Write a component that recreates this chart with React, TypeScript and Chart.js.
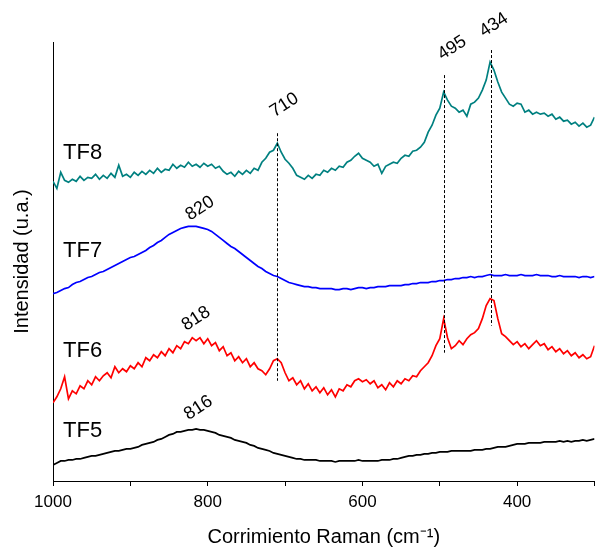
import React, { useEffect, useRef } from "react";
import { Chart, registerables } from "chart.js";

Chart.register(...registerables);

const wavenumbers = [
  1000, 995, 990, 985, 980, 975, 970, 965, 960, 955,
  950, 945, 940, 935, 930, 925, 920, 915, 910, 905,
  900, 895, 890, 885, 880, 875, 870, 865, 860, 855,
  850, 845, 840, 835, 830, 825, 820, 815, 810, 805,
  800, 795, 790, 785, 780, 775, 770, 765, 760, 755,
  750, 745, 740, 735, 730, 725, 720, 715, 710, 705,
  700, 695, 690, 685, 680, 675, 670, 665, 660, 655,
  650, 645, 640, 635, 630, 625, 620, 615, 610, 605,
  600, 595, 590, 585, 580, 575, 570, 565, 560, 555,
  550, 545, 540, 535, 530, 525, 520, 515, 510, 505,
  500, 495, 490, 485, 480, 475, 470, 465, 460, 455,
  450, 445, 440, 435, 430, 425, 420, 415, 410, 405,
  400, 395, 390, 385, 380, 375, 370, 365, 360, 355,
  350, 345, 340, 335, 330, 325, 320, 315, 310, 305,
  300,
];

const tf8 = [
  299, 292, 308, 300, 298, 301, 299, 304, 300, 303,
  302, 306, 301, 305, 302, 307, 303, 315, 304, 306,
  303, 308, 305, 309, 306, 310, 307, 312, 308, 311,
  310, 316, 312, 315, 313, 318, 314, 316, 313, 317,
  314, 316, 312, 314, 309, 306, 308, 304, 309, 306,
  310, 307, 312, 310, 318, 322, 328, 330, 337, 328,
  321, 317, 312, 305, 303, 301, 305, 302, 306, 305,
  310, 308, 312, 310, 314, 313, 318, 320, 324, 327,
  322, 320, 318, 314, 316, 307, 314, 316, 318, 317,
  322, 325, 324, 329, 330, 333, 338, 348, 355, 365,
  372, 388, 380, 374, 372, 368, 370, 364, 376, 378,
  382, 390, 400, 418, 410, 398, 388, 382, 376, 374,
  377, 376, 368, 370, 366, 368, 366, 367, 364, 366,
  361, 363, 359, 360, 356, 358, 354, 357, 353, 355,
  363,
];

const tf7 = [
  187, 188, 190, 192, 193, 196, 198, 199, 201, 203,
  204, 206, 208, 209, 211, 213, 215, 217, 219, 221,
  223, 224, 226, 228, 230, 233, 235, 238, 240, 243,
  246, 248, 250, 252, 253, 254, 254, 254, 253, 252,
  251, 249, 246, 243, 240, 237, 234, 232, 229, 226,
  223, 220, 217, 214, 212, 209, 207, 205, 204, 202,
  200, 198, 197, 196, 195, 194, 194, 193, 193, 192,
  192, 192, 192, 191, 191, 192, 192, 191, 192, 193,
  193, 192, 193, 193, 194, 194, 194, 195, 195, 195,
  195, 196, 196, 197, 197, 198, 198, 198, 199, 199,
  200, 200, 201, 201, 202, 202, 203, 203, 204, 203,
  204, 204, 205, 206, 205, 205, 205, 206, 205, 205,
  205, 206, 205, 205, 205, 206, 205, 205, 205, 204,
  204, 205, 204, 204, 204, 204, 203, 204, 204, 203,
  204,
];

const tf6 = [
  78, 84, 92, 104, 82, 90, 87, 95, 92, 100,
  96, 104, 100, 105, 108, 103, 114, 108, 112, 109,
  115, 112, 118, 114, 123, 120, 126, 123, 129, 125,
  132, 128, 135, 132, 139, 137, 143, 140, 143, 137,
  142, 135, 138, 130, 134, 125, 128, 120, 124, 118,
  122, 114, 118, 112, 110, 106, 112, 120, 122, 118,
  108, 100, 103, 96, 100, 92, 97, 90, 94, 88,
  93, 86, 91, 84, 92, 90, 96, 94, 100, 102,
  99, 101, 97, 100, 93, 96, 91, 98, 94, 100,
  97, 102, 100, 105, 104, 110, 114, 118, 125, 135,
  142, 162, 143, 132, 135, 140, 136, 142, 146, 148,
  152, 162, 175, 182, 180, 162, 147, 144, 140, 136,
  139, 134, 137, 132, 136, 140, 135, 137, 131, 134,
  129, 132, 127, 130, 125, 128, 123, 126, 122, 124,
  135,
];

const tf5 = [
  16, 18, 20, 20, 21, 21, 22, 22, 23, 24,
  25, 25, 26, 27, 28, 29, 30, 30, 31, 32,
  32, 33, 34, 36, 37, 38, 39, 41, 42, 44,
  46, 47, 49, 49, 50, 51, 51, 52, 51, 51,
  50, 49, 48, 46, 45, 44, 43, 41, 40, 39,
  38, 36, 35, 33, 32, 31, 30, 28, 27, 26,
  25, 24, 23, 22, 22, 21, 21, 21, 21, 20,
  20, 20, 20, 19, 20, 20, 20, 20, 20, 21,
  20, 20, 20, 20, 20, 21, 21, 21, 22, 22,
  23, 24, 25, 25, 26, 26, 27, 27, 28, 28,
  29, 29, 29, 30, 30, 30, 30, 30, 30, 31,
  31, 31, 32, 32, 33, 34, 34, 34, 35, 36,
  37, 37, 37, 38, 38, 38, 38, 39, 39, 39,
  39, 40, 39, 40, 39, 40, 40, 41, 40, 41,
  42,
];

const seriesNames = ["TF8", "TF7", "TF6", "TF5"];
const seriesColors = ["#008080", "#0000ff", "#ff0000", "#000000"];
const seriesLabelX = 987;
const seriesLabelY = [327, 230, 130, 50];

const xTickLabels = [1000, 800, 600, 400];

const peakLines = [710, 495, 434];
const peakLineTop = [347, 405, 430];
const peakLineBottom = [100, 128, 155];

const peakLabels = ["710", "820", "818", "816", "495", "434"];
const peakLabelX = [701, 810, 815, 812, 484, 430];
const peakLabelY = [375, 272, 162, 73, 432, 455];

const FONT = '"Liberation Sans", Arial, sans-serif';

const annotationPlugin = {
  id: "ramanAnnotations",
  afterDatasetsDraw(chart: any) {
    const { ctx, scales } = chart;
    const x = scales.x;
    const y = scales.y;
    ctx.save();
    ctx.strokeStyle = "#000";
    ctx.lineWidth = 1;
    ctx.setLineDash([3, 2]);
    peakLines.forEach((p, i) => {
      const px = Math.round(x.getPixelForValue(p)) + 0.5;
      ctx.beginPath();
      ctx.moveTo(px, y.getPixelForValue(peakLineTop[i]));
      ctx.lineTo(px, y.getPixelForValue(peakLineBottom[i]));
      ctx.stroke();
    });
    ctx.setLineDash([]);
    ctx.fillStyle = "#000";
    ctx.font = `22px ${FONT}`;
    ctx.textAlign = "left";
    ctx.textBaseline = "middle";
    seriesNames.forEach((n, i) => {
      ctx.fillText(n, x.getPixelForValue(seriesLabelX), y.getPixelForValue(seriesLabelY[i]));
    });
    ctx.font = `18px ${FONT}`;
    ctx.textAlign = "center";
    peakLabels.forEach((t, i) => {
      ctx.save();
      ctx.translate(x.getPixelForValue(peakLabelX[i]), y.getPixelForValue(peakLabelY[i]));
      ctx.rotate((-33 * Math.PI) / 180);
      ctx.fillText(t, 0, 0);
      ctx.restore();
    });
    ctx.restore();
  },
};

export default function App() {
  const ref = useRef<HTMLCanvasElement>(null);

  useEffect(() => {
    if (!ref.current) return;
    const seriesData = [tf8, tf7, tf6, tf5];
    const chart = new Chart(ref.current, {
      type: "line",
      data: {
        datasets: seriesData.map((vals, i) => ({
          label: seriesNames[i],
          data: wavenumbers.map((w, j) => ({ x: w, y: vals[j] })),
          borderColor: seriesColors[i],
          backgroundColor: seriesColors[i],
          borderWidth: 1.7,
          pointRadius: 0,
          tension: 0,
          fill: false,
        })),
      },
      options: {
        responsive: false,
        animation: false,
        devicePixelRatio: 1,
        layout: { padding: { top: 42, right: 2.5, left: 0, bottom: 0 } },
        plugins: {
          legend: { display: false },
          tooltip: { enabled: false },
        },
        scales: {
          x: {
            type: "linear",
            min: 300,
            max: 1000,
            reverse: true,
            border: { display: true, color: "#000", width: 1 },
            grid: {
              display: true,
              drawOnChartArea: false,
              drawTicks: true,
              tickLength: 5,
              tickColor: "#000",
              lineWidth: 1,
            },
            ticks: {
              stepSize: 100,
              autoSkip: false,
              maxRotation: 0,
              padding: 6,
              color: "#000",
              font: { family: FONT, size: 17 },
              callback: (v: any) => (xTickLabels.includes(Number(v)) ? String(v) : ""),
            },
            title: {
              display: true,
              text: "Corrimiento Raman (cm⁻¹)",
              color: "#000",
              font: { family: FONT, size: 20 },
              padding: { top: 5, bottom: 1 },
            },
            afterFit: (scale: any) => {
              scale.height = 69;
              scale.paddingLeft = 0;
              scale.paddingRight = 0;
            },
          },
          y: {
            min: 0,
            max: 438,
            border: { display: true, color: "#000", width: 1 },
            grid: { display: false },
            ticks: { display: false },
            title: {
              display: true,
              text: "Intensidad (u.a.)",
              color: "#000",
              font: { family: FONT, size: 20 },
              padding: { top: 10, bottom: 0 },
            },
            afterFit: (scale: any) => {
              scale.width = 53;
            },
          },
        },
      },
      plugins: [annotationPlugin],
    });
    return () => chart.destroy();
  }, []);

  return (
    <div style={{ position: "absolute", left: 0, top: 0, width: 597, height: 550, background: "#fff" }}>
      <canvas ref={ref} width={597} height={550} style={{ display: "block", width: 597, height: 550 }} />
    </div>
  );
}
